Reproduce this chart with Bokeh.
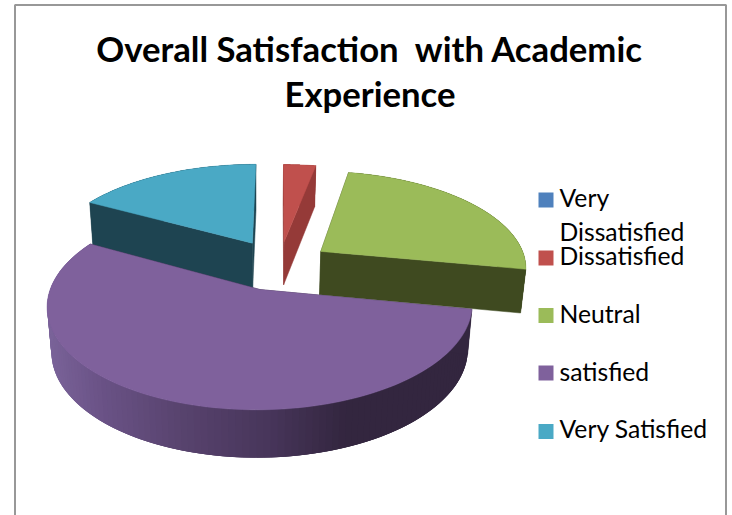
import numpy as np
from bokeh.plotting import figure
from bokeh.models import Range1d
from bokeh.core.properties import value
from bokeh.embed import file_html
from bokeh.resources import INLINE

title_lines = ["Overall Satisfaction\u00a0 with Academic", "Experience"]
categories = ["Very Dissatisfied", "Dissatisfied", "Neutral", "satisfied", "Very Satisfied"]
shares = [0, 3, 25, 55, 17]
top_colors = ["#4F81BD", "#C0504D", "#9BBB59", "#7F619C", "#4AA9C5"]
wall_colors = ["#2A4A70", "#953A38", "#3F4A20", "#33263F", "#1E4451"]
explode = [0.0, 0.25, 0.25, 0.27, 0.27]
radius = [1.0, 1.0, 1.01, 0.99, 1.02]
wall_extra = [0, 0, 0, 0, 5]
draw_order = [4, 1, 2, 3]

# Projection of the pie (perspective on the tilted disc), in page pixels
CX, CY, R, RY, K = 279.0, 264.0, 204.0, 95.0, 0.15
WALL_A, WALL_B, WALL_X0, WALL_XS = 25.5, 18.2, 260.0, 0.98

def project(u, v):
    s = 1.0 / (1.0 - K * v)
    return CX + R * u * s, CY + RY * v * s, s

def to_base(x, y, s, extra=0):
    return WALL_X0 + (x - WALL_X0) * WALL_XS, y + WALL_A + WALL_B * s + extra

rim_stops_x = [47, 100, 180, 270, 345, 480]
rim_stops = np.array([[0x7A, 0x63, 0x99], [0x6A, 0x52, 0x86], [0x58, 0x43, 0x6E],
                      [0x47, 0x35, 0x5A], [0x33, 0x26, 0x3F], [0x33, 0x26, 0x3F]], float)

def rim_color(x):
    c = [np.interp(x, rim_stops_x, rim_stops[:, i]) for i in range(3)]
    return "#%02x%02x%02x" % tuple(int(round(a)) for a in c)

p = figure(width=732, height=515, output_backend="svg", toolbar_location=None,
           x_range=Range1d(0, 732), y_range=Range1d(515, 0),
           x_axis_type="linear", min_border=0, outline_line_color=None,
           background_fill_color="white", border_fill_color="white")
p.axis.visible = False
p.grid.visible = False
p.styles = {"position": "absolute", "left": "0px", "top": "0px"}

# chart frame
p.multi_line(xs=[[14.5, 14.5, 725.5, 725.5]], ys=[[515, 4.5, 4.5, 515]],
             line_color="#989898", line_width=2)

totals = np.cumsum([0] + shares) / sum(shares) * 2 * np.pi
for i in draw_order:
    a0, a1 = totals[i], totals[i + 1]
    mid = (a0 + a1) / 2
    eu, ev = explode[i] * np.sin(mid), -explode[i] * np.cos(mid)
    r = radius[i]
    th = np.linspace(a0, a1, 121)
    rx, ry, rs = project(eu + r * np.sin(th), ev - r * np.cos(th))
    ax, ay, az = project(eu, ev)
    bx, by = to_base(rx, ry, rs, wall_extra[i])
    abx, aby = to_base(ax, ay, az, wall_extra[i])

    # outer wall: overlapping strips, painted in order, so no seams show
    n = len(th)
    xs, ys, cs = [], [], []
    for j in range(n - 1):
        e = min(j + 3, n - 1)
        xs.append([rx[j], rx[e], bx[e], bx[j]])
        ys.append([ry[j], ry[e], by[e], by[j]])
        cs.append(rim_color((rx[j] + rx[j + 1]) / 2) if i == 3 else wall_colors[i])
    p.patches(xs, ys, fill_color=cs, line_color=None)

    # the two cut walls
    for k in (0, -1):
        p.patch([ax, rx[k], bx[k], abx], [ay, ry[k], by[k], aby],
                fill_color=wall_colors[i], line_color=wall_colors[i], line_width=0.5)

    # top face
    p.patch(np.r_[ax, rx], np.r_[ay, ry], fill_color=top_colors[i],
            line_color=top_colors[i], line_width=0.5)

# title
p.text(x=[369.5, 369.5], y=[48, 93], text=title_lines, text_align="center",
       text_baseline="alphabetic", text_font=value("Lato"), text_font_style="bold",
       text_font_size="34.7px", text_color="black")

# legend
swatch_y = [199.5, 257.5, 315, 372.5, 431]
p.rect(x=[545.5] * 5, y=swatch_y, width=15, height=15, fill_color=top_colors, line_color=None)
leg_x = 559
leg_text = ["Very", "Dissatisfied", "Dissatisfied", "Neutral", "satisfied", "Very Satisfied"]
leg_y = [197, 231, 254.5, 313, 371, 428]
p.text(x=[leg_x] * 6, y=leg_y, text=leg_text, text_baseline="alphabetic",
       text_font=value("Lato"), text_font_size="24.7px", text_color="black")

open("out.html", "w").write(file_html(p, INLINE))
